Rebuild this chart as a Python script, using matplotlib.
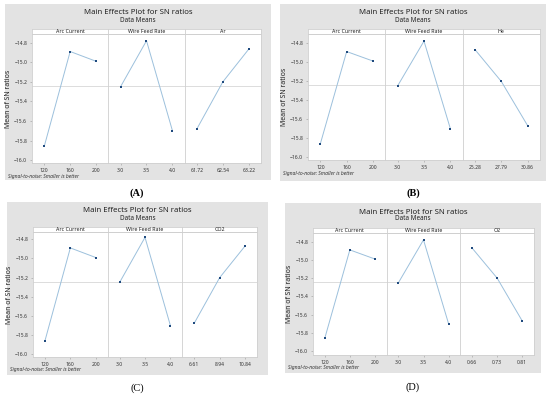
import matplotlib
matplotlib.use('Agg')
import matplotlib.pyplot as plt
from matplotlib.patches import Rectangle
import numpy as np

# ---------------- data ----------------
arc_levels = ['120', '160', '200']
arc_sn = [-15.86, -14.89, -14.99]
wfr_levels = ['3.0', '3.5', '4.0']
wfr_sn = [-15.25, -14.78, -15.70]
ar_levels = ['61.72', '62.54', '63.22']
ar_sn = [-15.68, -15.20, -14.865]
he_levels = ['25.28', '27.79', '30.86']
he_sn = [-14.87, -15.205, -15.67]
co2_levels = ['6.61', '8.94', '10.84']
co2_sn = [-15.675, -15.20, -14.87]
o2_levels = ['0.66', '0.73', '0.81']
o2_sn = [-14.87, -15.20, -15.67]
yticks = [-16.0, -15.8, -15.6, -15.4, -15.2, -15.0, -14.8]

W, H = 550, 395
plt.rcParams['font.family'] = ['Noto Sans', 'DejaVu Sans']

fig = plt.figure(figsize=(W / 100, H / 100), dpi=100)
fig.patch.set_facecolor('white')

GREY = '#e3e3e3'
PT_C = '#1f4a7e'
LN_C = '#9cc0dc'
GRID_C = '#cfcfcf'


def fx(x):
    return x / W


def fy(y):
    return 1 - y / H


def panel(spec, factors):
    gx0, gy0, gx1, gy1 = spec['grey']
    fig.add_artist(Rectangle((fx(gx0), fy(gy1)), fx(gx1) - fx(gx0), fy(gy0) - fy(gy1),
                             transform=fig.transFigure, facecolor=GREY, edgecolor='none', zorder=0))
    cx = (gx0 + gx1) / 2 + spec.get('tdx', 0)
    fig.text(fx(cx), fy(spec['ty']), 'Main Effects Plot for SN ratios', ha='center', va='center',
             fontsize=5.6, fontweight='bold', color='#222222')
    fig.text(fx(cx), fy(spec['sy']), 'Data Means', ha='center', va='center',
             fontsize=4.6, color='#222222')
    px0, px1 = spec['px']
    st, sb, pb = spec['strip_top'], spec['strip_bot'], spec['pbot']
    t08, t16 = spec['t148'], spec['t160']
    scale = (-14.8 - -16.0) / (t16 - t08)
    ytop = -14.8 + (t08 - sb) * scale
    ybot = -16.0 - (pb - t16) * scale
    fw = (px1 - px0) / 3
    allv = np.concatenate([np.asarray(v) for _, _, v in factors])
    mean = np.mean(allv)
    for i, (name, levels, vals) in enumerate(factors):
        x0 = px0 + i * fw
        ax = fig.add_axes([fx(x0), fy(pb), fw / W, (pb - sb) / H])
        ax.set_facecolor('white')
        xs = np.arange(len(levels))
        ax.axhline(mean, color=GRID_C, lw=0.5, zorder=1)
        ax.plot(xs, vals, color=LN_C, lw=0.7, zorder=2)
        ax.plot(xs, vals, 's', color=PT_C, ms=1.9, mew=0, zorder=3)
        ax.set_xlim(-0.47, 2.47)
        ax.set_ylim(ybot, ytop)
        ax.set_xticks(xs)
        ax.set_xticklabels(levels, fontsize=3.6, color='#333333')
        ax.set_yticks(yticks)
        ax.tick_params(axis='both', length=1.5, width=0.4, color='#999999', pad=2)
        if i == 0:
            ax.set_yticklabels(['\u2212%.1f' % abs(v) for v in yticks], fontsize=3.6, color='#333333')
            ax.set_ylabel('Mean of SN ratios', fontsize=5.0, color='#222222', labelpad=1.5)
        else:
            ax.set_yticklabels([])
            ax.tick_params(axis='y', length=0)
        for s in ax.spines.values():
            s.set_color(GRID_C)
            s.set_linewidth(0.6)
        # strip
        sax = fig.add_axes([fx(x0), fy(sb), fw / W, (sb - st) / H])
        sax.set_facecolor('white')
        sax.set_xticks([])
        sax.set_yticks([])
        for s in sax.spines.values():
            s.set_color(GRID_C)
            s.set_linewidth(0.6)
        sax.text(0.5, 0.5, name, transform=sax.transAxes, ha='center', va='center',
                 fontsize=3.8, color='#222222')
    fig.text(fx(gx0 + 3), fy(spec['nsy']), 'Signal-to-noise: Smaller is better', ha='left', va='center',
             fontsize=3.6, style='italic', color='#333333')
    fig.text(fx(spec['tag'][0]), fy(spec['tag'][1]), spec['tag'][2], ha='center', va='center',
             fontsize=7.5, fontweight='bold' if spec['tag'][3] else 'normal',
             family=['Liberation Serif', 'DejaVu Serif'], color='black')


specA = dict(grey=(5, 4, 271, 180), ty=12, sy=20, px=(32, 261), strip_top=29, strip_bot=34, pbot=163,
             t148=42.7, t160=160.2, nsy=177, tag=(137, 193, '(A)', True))
specB = dict(grey=(280, 4, 546, 181), ty=13, sy=21, px=(308, 540), strip_top=29, strip_bot=34, pbot=160,
             t148=43, t160=157, nsy=174, tag=(413, 193, '(B)', True))
specC = dict(grey=(7, 202, 268, 375), ty=211, sy=218, px=(33, 257), strip_top=227, strip_bot=232, pbot=357,
             t148=239.3, t160=354.3, nsy=369, tag=(137, 388, '(C)', False))
specD = dict(grey=(285, 203, 541, 373), ty=212, sy=219, px=(313, 534), strip_top=228, strip_bot=233, pbot=355,
             t148=241.7, t160=351, nsy=368, tag=(413, 387, '(D)', False))

panel(specA, [('Arc Current', arc_levels, arc_sn), ('Wire Feed Rate', wfr_levels, wfr_sn), ('Ar', ar_levels, ar_sn)])
panel(specB, [('Arc Current', arc_levels, arc_sn), ('Wire Feed Rate', wfr_levels, wfr_sn), ('He', he_levels, he_sn)])
panel(specC, [('Arc Current', arc_levels, arc_sn), ('Wire Feed Rate', wfr_levels, wfr_sn), ('CO2', co2_levels, co2_sn)])
panel(specD, [('Arc Current', arc_levels, arc_sn), ('Wire Feed Rate', wfr_levels, wfr_sn), ('O2', o2_levels, o2_sn)])

fig.savefig('out.png', dpi=100)
